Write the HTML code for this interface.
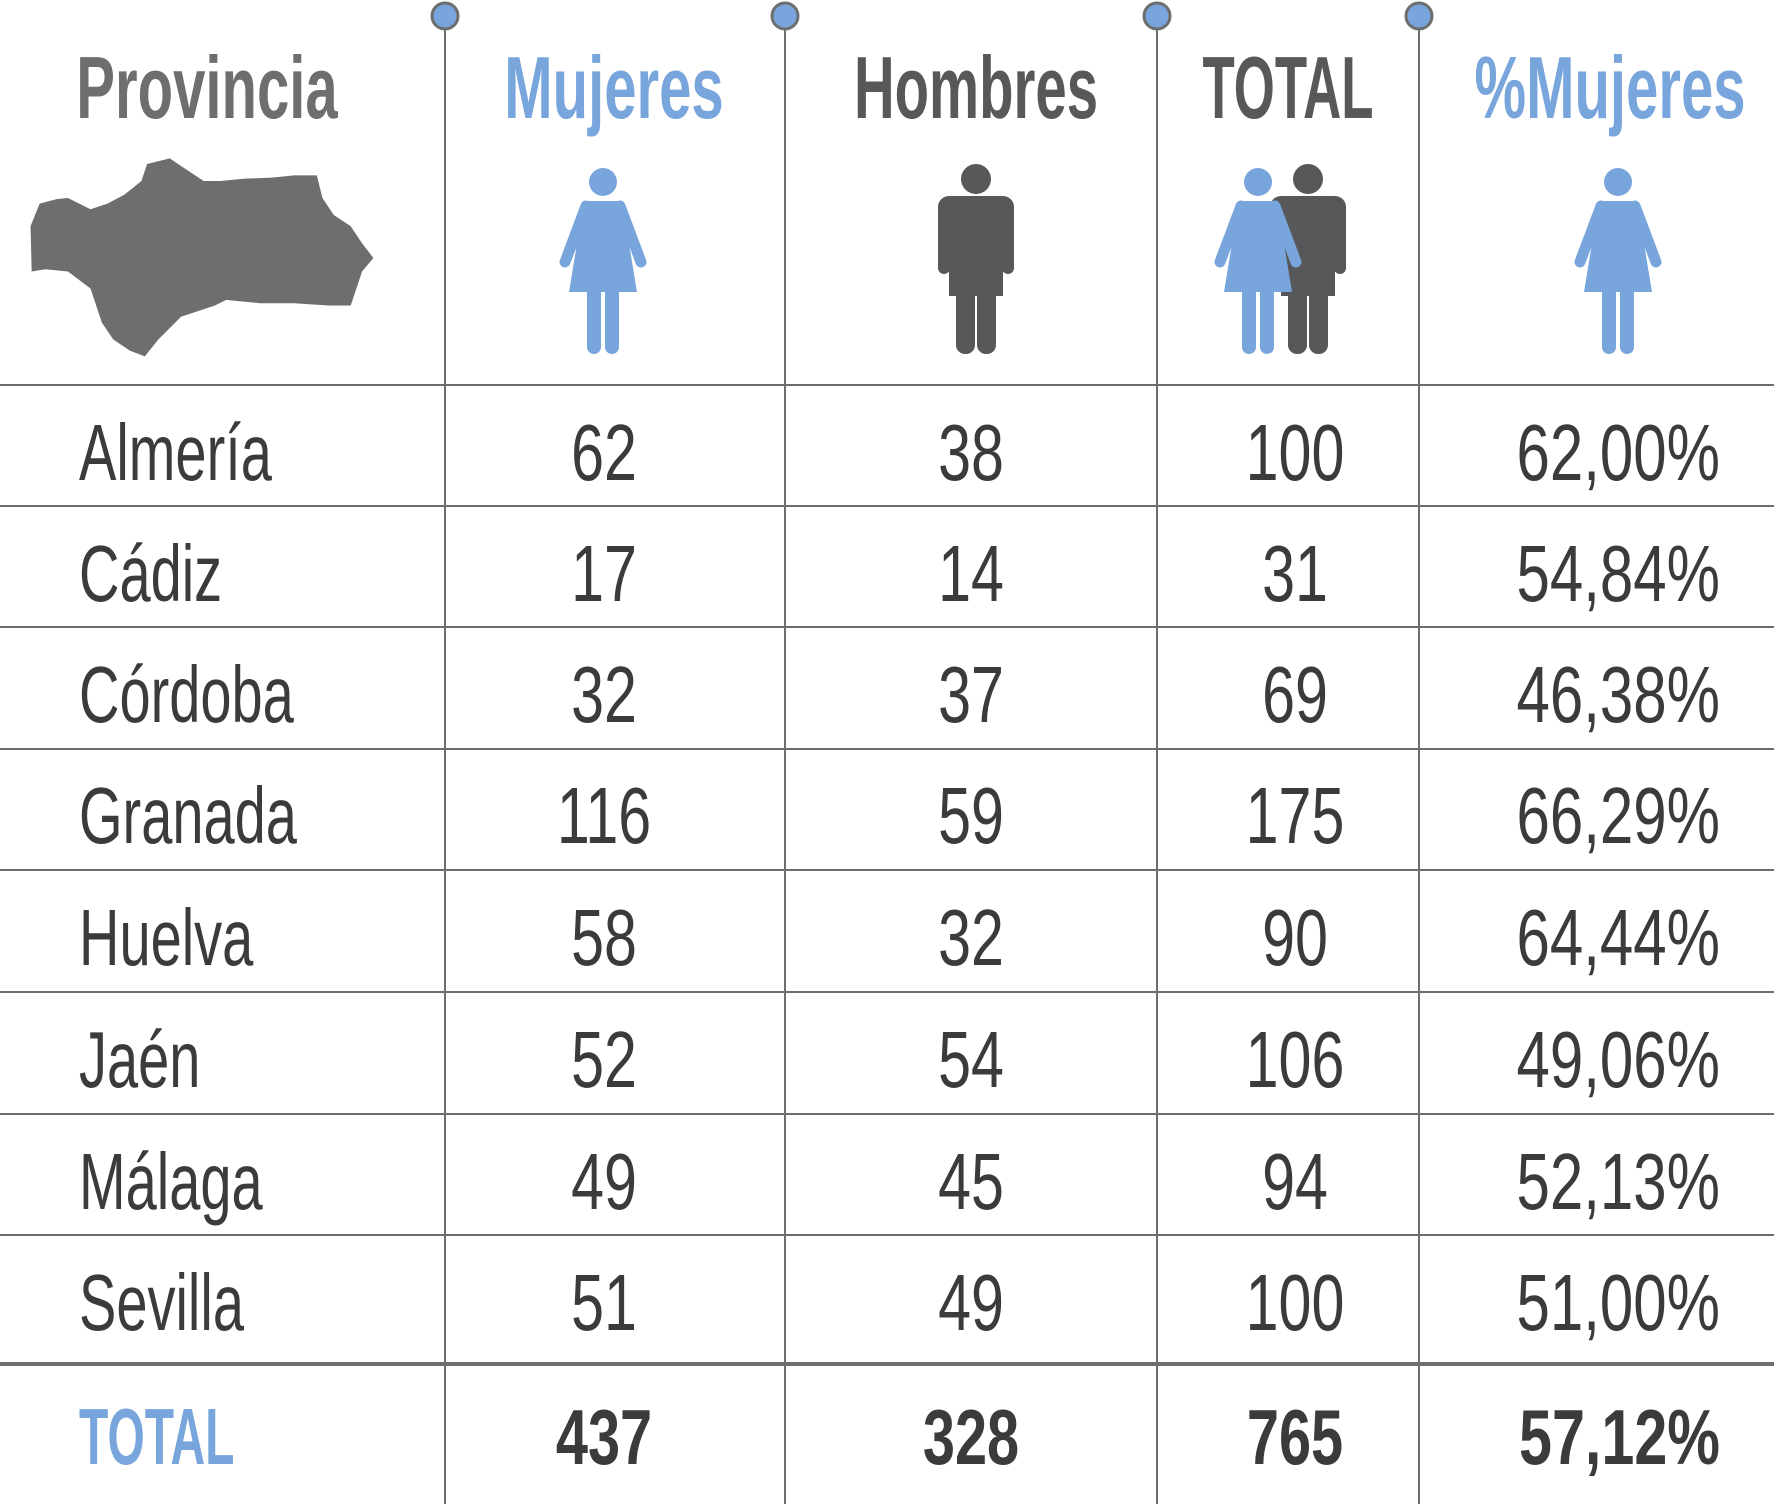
<!DOCTYPE html>
<html><head><meta charset="utf-8"><style>
html,body{margin:0;padding:0;background:#fff}
svg{display:block}
text{font-family:"Liberation Sans",sans-serif}
.r{font-size:80px;fill:#3b3b3d}
.h{font-size:88px;font-weight:bold}
.t{font-size:78px;font-weight:bold;fill:#3b3b3d}
</style></head><body>
<svg width="1774" height="1504" viewBox="0 0 1774 1504" xmlns="http://www.w3.org/2000/svg">
<defs>
<g id="woman" fill="#78a5dc">
<circle cx="0" cy="0" r="14"/>
<polygon points="-19,19 19,19 34,110 -34,110"/>
<line x1="-17" y1="24" x2="-38" y2="80" stroke="#78a5dc" stroke-width="11" stroke-linecap="round"/>
<line x1="17" y1="24" x2="38" y2="80" stroke="#78a5dc" stroke-width="11" stroke-linecap="round"/>
<rect x="-16" y="100" width="14" height="72" rx="7"/>
<rect x="2" y="100" width="14" height="72" rx="7"/>
</g>
<g id="man" fill="#58585a">
<circle cx="0" cy="0" r="15"/>
<rect x="-38" y="17" width="76" height="24" rx="11"/>
<rect x="-27" y="17" width="54" height="100"/>
<rect x="-38" y="25" width="12" height="70" rx="6"/>
<rect x="26" y="25" width="12" height="70" rx="6"/>
<rect x="-20" y="100" width="19" height="75" rx="9"/>
<rect x="1" y="100" width="19" height="75" rx="9"/>
</g>
</defs>
<g stroke="#6d6e70" stroke-width="2">
<line x1="445" y1="16" x2="445" y2="1504"/>
<line x1="785" y1="16" x2="785" y2="1504"/>
<line x1="1157" y1="16" x2="1157" y2="1504"/>
<line x1="1419" y1="16" x2="1419" y2="1504"/>
<line x1="0" y1="385" x2="1774" y2="385"/>
<line x1="0" y1="506" x2="1774" y2="506"/>
<line x1="0" y1="627" x2="1774" y2="627"/>
<line x1="0" y1="749" x2="1774" y2="749"/>
<line x1="0" y1="870" x2="1774" y2="870"/>
<line x1="0" y1="992" x2="1774" y2="992"/>
<line x1="0" y1="1114" x2="1774" y2="1114"/>
<line x1="0" y1="1235" x2="1774" y2="1235"/>
<line x1="0" y1="1364" x2="1774" y2="1364" stroke-width="4"/>
</g>
<g fill="#78a5dc" stroke="#6d6e70" stroke-width="3">
<circle cx="445" cy="16" r="13"/><circle cx="785" cy="16" r="13"/>
<circle cx="1157" cy="16" r="13"/><circle cx="1419" cy="16" r="13"/>
</g>
<text class="h" fill="#6d6e70" text-anchor="middle" transform="translate(207,118) scale(0.66,1)">Provincia</text>
<text class="h" fill="#78a5dc" text-anchor="middle" transform="translate(614,118) scale(0.66,1)">Mujeres</text>
<text class="h" fill="#58585a" text-anchor="middle" transform="translate(976,118) scale(0.64,1)">Hombres</text>
<text class="h" fill="#58585a" text-anchor="middle" transform="translate(1288,118) scale(0.6,1)">TOTAL</text>
<text class="h" fill="#78a5dc" text-anchor="middle" transform="translate(1610,118) scale(0.66,1)">%Mujeres</text>
<g transform="scale(1.1314)">
<polygon fill="#6d6e70" points="27,200 35,180 50,176 60,175 80,185 95,180 110,172 125,160 130,145 150,140 165,150 180,160 195,160 215,158 240,157 260,155 280,155 285,175 295,190 310,200 320,215 330,228 320,240 315,255 310,270 290,270 260,268 230,268 200,265 190,270 175,275 160,280 150,290 140,300 128,315 115,310 100,300 90,285 85,270 80,255 60,240 40,238 28,240"/>
</g>
<use href="#woman" x="603" y="182"/>
<use href="#man" x="976" y="179"/>
<use href="#man" x="1308" y="179"/>
<use href="#woman" x="1258" y="182"/>
<use href="#woman" x="1618" y="182"/>
<g class="r">
<text transform="translate(79,480) scale(0.7,1)">Almería</text>
<text transform="translate(79,601) scale(0.7,1)">Cádiz</text>
<text transform="translate(79,722) scale(0.7,1)">Córdoba</text>
<text transform="translate(79,843) scale(0.7,1)">Granada</text>
<text transform="translate(79,965) scale(0.7,1)">Huelva</text>
<text transform="translate(79,1087) scale(0.7,1)">Jaén</text>
<text transform="translate(79,1209) scale(0.7,1)">Málaga</text>
<text transform="translate(79,1330) scale(0.7,1)">Sevilla</text>
</g>
<g class="r" text-anchor="middle">
<text transform="translate(604,480) scale(0.74,1)">62</text>
<text transform="translate(604,601) scale(0.74,1)">17</text>
<text transform="translate(604,722) scale(0.74,1)">32</text>
<text transform="translate(604,843) scale(0.74,1)">116</text>
<text transform="translate(604,965) scale(0.74,1)">58</text>
<text transform="translate(604,1087) scale(0.74,1)">52</text>
<text transform="translate(604,1209) scale(0.74,1)">49</text>
<text transform="translate(604,1330) scale(0.74,1)">51</text>
<text transform="translate(971,480) scale(0.74,1)">38</text>
<text transform="translate(971,601) scale(0.74,1)">14</text>
<text transform="translate(971,722) scale(0.74,1)">37</text>
<text transform="translate(971,843) scale(0.74,1)">59</text>
<text transform="translate(971,965) scale(0.74,1)">32</text>
<text transform="translate(971,1087) scale(0.74,1)">54</text>
<text transform="translate(971,1209) scale(0.74,1)">45</text>
<text transform="translate(971,1330) scale(0.74,1)">49</text>
<text transform="translate(1295,480) scale(0.74,1)">100</text>
<text transform="translate(1295,601) scale(0.74,1)">31</text>
<text transform="translate(1295,722) scale(0.74,1)">69</text>
<text transform="translate(1295,843) scale(0.74,1)">175</text>
<text transform="translate(1295,965) scale(0.74,1)">90</text>
<text transform="translate(1295,1087) scale(0.74,1)">106</text>
<text transform="translate(1295,1209) scale(0.74,1)">94</text>
<text transform="translate(1295,1330) scale(0.74,1)">100</text>
</g>
<g class="r" text-anchor="end">
<text transform="translate(1720,480) scale(0.75,1)">62,00%</text>
<text transform="translate(1720,601) scale(0.75,1)">54,84%</text>
<text transform="translate(1720,722) scale(0.75,1)">46,38%</text>
<text transform="translate(1720,843) scale(0.75,1)">66,29%</text>
<text transform="translate(1720,965) scale(0.75,1)">64,44%</text>
<text transform="translate(1720,1087) scale(0.75,1)">49,06%</text>
<text transform="translate(1720,1209) scale(0.75,1)">52,13%</text>
<text transform="translate(1720,1330) scale(0.75,1)">51,00%</text>
</g>
<text class="h" fill="#78a5dc" transform="translate(79,1464) scale(0.6,1)" style="font-size:80px">TOTAL</text>
<g class="t" text-anchor="middle">
<text transform="translate(604,1464) scale(0.74,1)">437</text>
<text transform="translate(971,1464) scale(0.74,1)">328</text>
<text transform="translate(1295,1464) scale(0.74,1)">765</text>
</g>
<text class="t" text-anchor="end" transform="translate(1720,1464) scale(0.76,1)">57,12%</text>
</svg>
</body></html>
